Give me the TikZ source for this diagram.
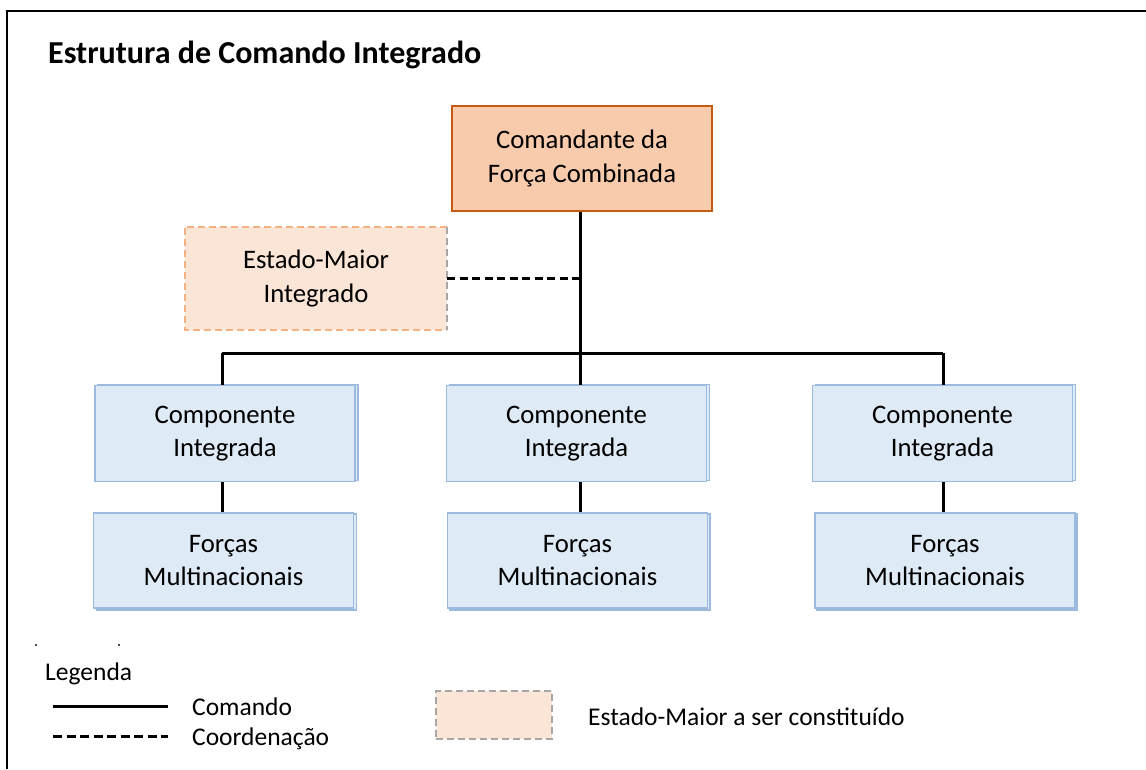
\documentclass[tikz,border=0pt]{standalone}
\usepackage{fontspec}
\setmainfont{Carlito}
\definecolor{boxblue}{HTML}{DEEAF6}
\definecolor{edgeblue}{HTML}{9CB9DE}
\definecolor{topfill}{HTML}{F8CBAD}
\definecolor{topedge}{HTML}{C55A11}
\definecolor{emifill}{HTML}{FBE5D6}
\definecolor{emiedge}{HTML}{F4B183}
\definecolor{grayedge}{HTML}{A6A6A6}
\tikzset{
  txt/.style={font=\fontsize{26.7}{33.5}\selectfont, align=center},
  ltxt/.style={font=\fontsize{25.5}{31}\selectfont},
  bluebox/.style={txt, draw=edgeblue, fill=boxblue, line width=1.8pt, minimum width=260pt, minimum height=96pt, inner sep=0pt},
  shadowbox/.style={draw=edgeblue, fill=boxblue, line width=1.4pt, minimum width=260pt, minimum height=96pt, inner sep=0pt},
  topbox/.style={txt, draw=topedge, fill=topfill, line width=2.6pt, minimum width=260pt, minimum height=105pt, inner sep=0pt},
  emibox/.style={txt, fill=emifill, minimum width=262pt, minimum height=103pt, inner sep=0pt},
  cmd/.style={line width=3pt, black},
  coord/.style={line width=3pt, black, dash pattern=on 8pt off 4.5pt},
}
\begin{document}
\begin{tikzpicture}[x=1pt,y=-1pt]
\useasboundingbox (0,0) rectangle (1146,769);
% frame
\draw[line width=2.5pt] (7,769) -- (7,11) -- (1146,11);
% title
\node[anchor=base west, font=\fontsize{32}{36}\selectfont\bfseries, inner sep=0pt] (title) at (48,63) {Estrutura de Comando Integrado};

% top box
\node[topbox] (cfc) at (582,158.5) {Comandante da\\Força Combinada};

% EMI box
\node[emibox] (emi) at (316,278.5) {Estado-Maior\\Integrado};
\draw[emiedge, line width=1.8pt, dash pattern=on 7pt off 4pt] (emi.north east) -- (emi.north west) -- (emi.south west) -- (emi.south east);
\draw[grayedge, line width=1.8pt, dash pattern=on 7pt off 4pt] (emi.north east) -- (emi.south east);

% shadow rectangles
\node[shadowbox] (s1) at (228,432.5) {};
\node[shadowbox] (s2) at (579.5,432.5) {};
\node[shadowbox] (s3) at (945.5,432.5) {};
\node[shadowbox] (s4) at (226.5,562) {};
\node[shadowbox] (s5) at (580,562) {};
\node[shadowbox] (s6) at (947,562) {};

% component boxes
\node[bluebox] (comp1) at (225,433.5) {Componente\\Integrada};
\node[bluebox] (comp2) at (576.5,433.5) {Componente\\Integrada};
\node[bluebox] (comp3) at (942.5,433.5) {Componente\\Integrada};
% forces boxes
\node[bluebox, minimum height=95pt] (f1) at (223.5,560.5) {Forças\\Multinacionais};
\node[bluebox, minimum height=95pt] (f2) at (577.5,560.5) {Forças\\Multinacionais};
\node[bluebox, minimum height=95pt] (f3) at (945,560.5) {Forças\\Multinacionais};

% connectors
\coordinate (hub) at (580,353);
\coordinate (emij) at (580,278);
\coordinate (b1) at (222,353);
\coordinate (b3) at (943,353);
\draw[cmd] (cfc.south -| hub) -- (hub);
\draw[cmd] (b1) -- (b3);
\draw[cmd] (b1) -- (b1 |- comp1.north);
\draw[cmd] (hub) -- (hub |- comp2.north);
\draw[cmd] (b3) -- (b3 |- comp3.north);
\draw[coord] (emi.east |- emij) -- (emij);
\draw[cmd] (comp1.south -| b1) -- (f1.north -| b1);
\draw[cmd] (comp2.south -| hub) -- (f2.north -| hub);
\draw[cmd] (comp3.south -| b3) -- (f3.north -| b3);

% stray dots
\fill[black!70] (34.5,643.5) rectangle (36.5,645.5);
\fill[black!70] (117.5,643.5) rectangle (119.5,645.5);

% legend
\node[ltxt, anchor=base west, inner sep=0pt] (leg) at (45,680) {Legenda};
\coordinate (l1a) at (53,706);
\coordinate (l1b) at (168,706);
\coordinate (l2a) at (53,736);
\coordinate (l2b) at (168,736);
\draw[cmd] (l1a) -- (l1b);
\draw[coord, dash pattern=on 9pt off 4.5pt] (l2a) -- (l2b);
\node[ltxt, anchor=base west, inner sep=0pt] (lcmd) at (192,715) {Comando};
\node[ltxt, anchor=base west, inner sep=0pt] (lcoord) at (192,745) {Coordenação};
\node[fill=emifill, draw=grayedge, line width=1.8pt, dash pattern=on 7pt off 4pt, minimum width=116pt, minimum height=48pt, inner sep=0pt] (lbox) at (494,715) {};
\node[ltxt, anchor=west, inner sep=0pt] (lemi) at (588,717) {Estado-Maior a ser constituído};
\end{tikzpicture}
\end{document}
